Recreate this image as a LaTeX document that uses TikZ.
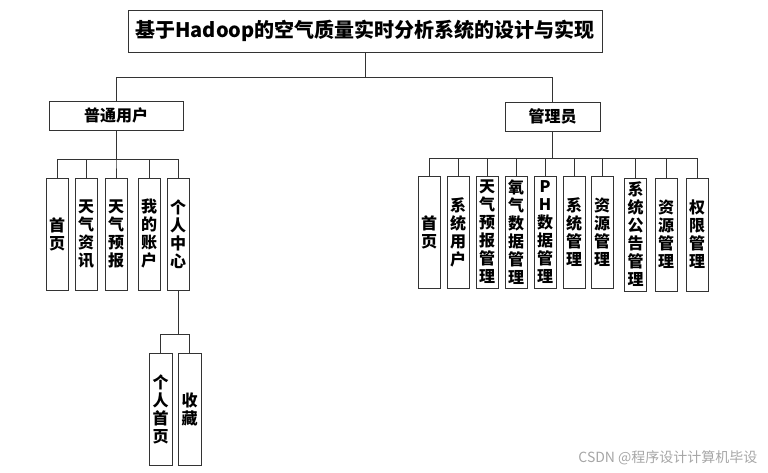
\documentclass[tikz,border=0pt]{standalone}
\usepackage{fontspec}
\setmainfont{Noto Sans CJK SC}
\tikzset{
    box/.style={draw=black!80, line width=0.8pt, fill=white, inner sep=0pt, align=center,
        font=\fontsize{16}{18}\selectfont\bfseries},
    vbox/.style={box, minimum width=22, minimum height=112},
    link/.style={draw=black!80, line width=0.8pt}
}
\begin{document}
\begin{tikzpicture}[x=1pt, y=-1pt]
    \useasboundingbox (0,0) rectangle (768,473);

    % 标题
    \node[box, minimum width=474, minimum height=42, font=\fontsize{20}{24}\selectfont\bfseries] (title) at (365,31) {基于Hadoop的空气质量实时分析系统的设计与实现};

    % 两个角色
    \node[box, minimum width=134, minimum height=29] (user) at (116,115.5) {普通用户};
    \node[box, minimum width=95, minimum height=29] (admin) at (552.5,116.5) {管理员};

    \draw[link] (title.south) -- ++(0,25) -| (user.north);
    \draw[link] (title.south) -- ++(0,25) -| (admin.north);

    % 普通用户功能
    \node[vbox] (u1) at (57,234) {首\\页};
    \node[vbox] (u2) at (86,234) {天\\气\\资\\讯};
    \node[vbox] (u3) at (116,234) {天\\气\\预\\报};
    \node[vbox] (u4) at (149,234) {我\\的\\账\\户};
    \node[vbox] (u5) at (178,234) {个\\人\\中\\心};

    \foreach \c in {u1,u2,u3,u4,u5} {
        \draw[link] (user.south) -- ++(0,29) -| (\c.north);
    }

    % 个人中心
    \node[vbox, minimum width=23] (p1) at (160.5,409) {个\\人\\首\\页};
    \node[vbox, minimum width=23] (p2) at (189.5,409) {收\\藏};

    \foreach \c in {p1,p2} {
        \draw[link] (u5.south) -- ++(0,44) -| (\c.north);
    }

    % 管理员功能
    \node[vbox] (a1) at (429,232) {首\\页};
    \node[vbox] (a2) at (458,232) {系\\统\\用\\户};
    \node[vbox] (a3) at (487,232) {天\\气\\预\\报\\管\\理};
    \node[vbox] (a4) at (516,232) {氧\\气\\数\\据\\管\\理};
    \node[vbox] (a5) at (545,232) {P\\H\\数\\据\\管\\理};
    \node[vbox] (a6) at (574,232) {系\\统\\管\\理};
    \node[vbox] (a7) at (602,232) {资\\源\\管\\理};
    \node[vbox, minimum height=113] (a8) at (635.5,234.5) {系\\统\\公\\告\\管\\理};
    \node[vbox, minimum height=113] (a9) at (666,234.5) {资\\源\\管\\理};
    \node[vbox, minimum height=113] (a10) at (697,234.5) {权\\限\\管\\理};

    \foreach \c in {a1,a2,a3,a4,a5,a6,a7,a8,a9,a10} {
        \draw[link] (admin.south) -- ++(0,27) -| (\c.north);
    }

    \node[anchor=east, text=black!35, font=\fontsize{14}{16}\selectfont] (mark) at (761,458) {CSDN @程序设计计算机毕设};
\end{tikzpicture}
\end{document}
